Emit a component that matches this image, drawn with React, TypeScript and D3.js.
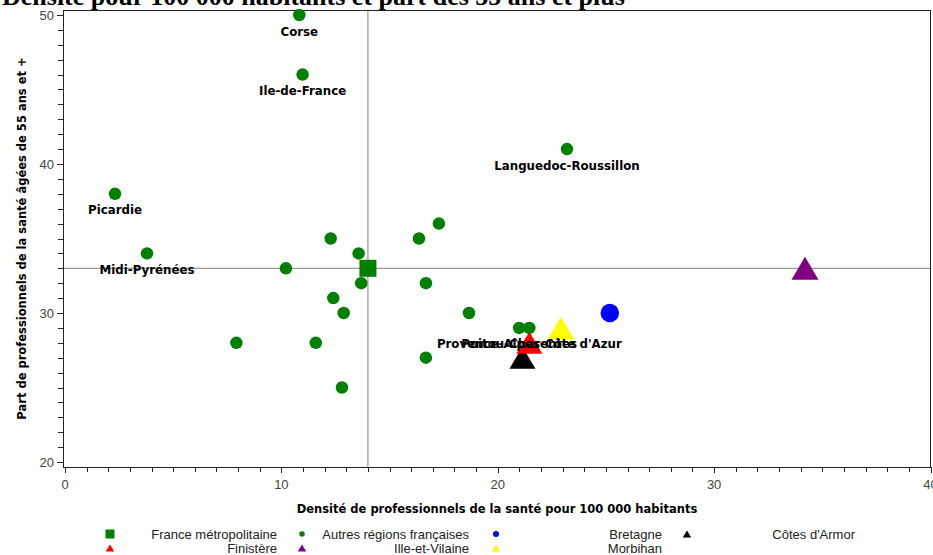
import React from 'react';
import * as d3 from 'd3';

const W = 933;
const H = 555;

const titleText = 'Densité pour 100 000 habitants et part des 55 ans et plus';
const xTitle = 'Densité de professionnels de la santé pour 100 000 habitants';
const yTitle = 'Part de professionnels de la santé âgées de 55 ans et +';

// Autres régions françaises
const autresLabels = [
  'Corse', 'Ile-de-France', 'Languedoc-Roussillon', 'Picardie', 'Midi-Pyrénées',
  'Poitou-Charentes', "Provence-Alpes-Côte d'Azur",
  '', '', '', '', '', '', '', '', '', '', '', '', '', '',
];
const autresX = [
  10.83, 10.98, 23.2, 2.31, 3.79, 20.99, 21.46,
  12.28, 17.28, 16.36, 13.57, 10.21, 13.69, 16.68, 12.4, 12.88, 18.67, 7.92, 11.59, 16.68, 12.8,
];
const autresY = [
  50, 46, 41, 38, 34, 29, 29,
  35, 36, 35, 34, 33, 32, 32, 31, 30, 30, 28, 28, 27, 25,
];

// Territoires de référence
const refNames = ['France métropolitaine', 'Bretagne', "Côtes d'Armor", 'Finistère', 'Ille-et-Vilaine', 'Morbihan'];
const refX = [14.0, 25.18, 21.14, 21.46, 34.2, 22.92];
const refY = [33, 30, 27, 28, 33, 29];

const legendItems = [
  'France métropolitaine', 'Autres régions françaises', 'Bretagne', "Côtes d'Armor",
  'Finistère', 'Ille-et-Vilaine', 'Morbihan',
];

const xTicksMajor = [0, 10, 20, 30, 40];
const yTicksMajor = [20, 30, 40, 50];

const GREEN = '#008000';
const colorOf: Record<string, string> = {
  'France métropolitaine': GREEN,
  'Autres régions françaises': GREEN,
  'Bretagne': '#0000ff',
  "Côtes d'Armor": '#000000',
  'Finistère': '#ff0000',
  'Ille-et-Vilaine': '#800080',
  'Morbihan': '#ffff00',
};
const shapeOf: Record<string, string> = {
  'France métropolitaine': 'square',
  'Autres régions françaises': 'circle',
  'Bretagne': 'circle',
  "Côtes d'Armor": 'triangle',
  'Finistère': 'triangle',
  'Ille-et-Vilaine': 'triangle',
  'Morbihan': 'triangle',
};

function Marker({ name, cx, cy, size }: { name: string; cx: number; cy: number; size: number }) {
  const shape = shapeOf[name];
  const fill = colorOf[name];
  if (shape === 'circle') return <circle cx={cx} cy={cy} r={size / 2} fill={fill} />;
  if (shape === 'square')
    return <rect x={cx - size / 2} y={cy - size / 2} width={size} height={size} fill={fill} />;
  const w = size;
  const h = size * 0.85;
  const pts = `${cx},${cy - h / 2} ${cx + w / 2},${cy + h / 2} ${cx - w / 2},${cy + h / 2}`;
  return <polygon points={pts} fill={fill} />;
}

export default function App() {
  const left = 63;
  const right = 931;
  const top = 10;
  const bottom = 467;
  const x = d3.scaleLinear().domain([0, 40]).range([65, 930.5]);
  const y = d3.scaleLinear().domain([20, 50]).range([462, 15]);
  const xMinor = x.ticks(40);
  const yMinor = y.ticks(30);
  const france = refNames.indexOf('France métropolitaine');

  const refSize: Record<string, number> = {
    'France métropolitaine': 17,
    'Bretagne': 18.5,
    "Côtes d'Armor": 26,
    'Finistère': 26,
    'Ille-et-Vilaine': 27,
    'Morbihan': 26,
  };
  const legendSize: Record<string, number> = {
    'France métropolitaine': 9,
    'Autres régions françaises': 5.5,
    'Bretagne': 6,
    "Côtes d'Armor": 8.5,
    'Finistère': 8.5,
    'Ille-et-Vilaine': 8.5,
    'Morbihan': 8.5,
  };
  const legMarkerX = [110, 302, 496, 687];
  const legTextX = [277, 469, 662, 855];
  const legRowY = [534, 548];

  const labelFont = "'DejaVu Sans', sans-serif";
  const tickFont = "'Liberation Sans', Arial, sans-serif";

  return (
    <svg width={W} height={H} style={{ position: 'absolute', left: 0, top: 0, background: '#fff' }}>
      <rect x={0} y={0} width={W} height={H} fill="#fff" />
      <text x={2} y={4.5} fontFamily="'Liberation Serif', 'Times New Roman', serif" fontWeight="bold" fontSize={26} fill="#000">
        {titleText}
      </text>

      {/* reference lines */}
      <line x1={x(refX[france])} x2={x(refX[france])} y1={top} y2={bottom} stroke="#808080" strokeWidth={1} />
      <line x1={left} x2={right} y1={y(refY[france])} y2={y(refY[france])} stroke="#808080" strokeWidth={1} />

      {/* frame */}
      <rect x={left + 0.5} y={top + 0.5} width={right - left - 1} height={bottom - top} fill="none" stroke="#222" strokeWidth={1} />

      {/* x axis ticks */}
      {xMinor.map((t) => (
        <line key={'xm' + t} x1={Math.round(x(t)) + 0.5} x2={Math.round(x(t)) + 0.5} y1={bottom} y2={bottom + (xTicksMajor.includes(t) ? 6 : 5)} stroke="#222" />
      ))}
      {xTicksMajor.map((t) => (
        <text key={'xl' + t} x={x(t)} y={489} textAnchor="middle" fontFamily={tickFont} fontSize={13} fill="#444">
          {t}
        </text>
      ))}
      {/* y axis ticks */}
      {yMinor.map((t) => (
        <line key={'ym' + t} x1={left - (yTicksMajor.includes(t) ? 6 : 5)} x2={left} y1={Math.round(y(t)) + 0.5} y2={Math.round(y(t)) + 0.5} stroke="#222" />
      ))}
      {yTicksMajor.map((t) => (
        <text key={'yl' + t} x={54} y={y(t) + 4.5} textAnchor="end" fontFamily={tickFont} fontSize={13} fill="#444">
          {t}
        </text>
      ))}

      {/* axis titles */}
      <text x={(left + right) / 2} y={513} textAnchor="middle" fontFamily={labelFont} fontWeight="bold" fontSize={11.5} fill="#000">
        {xTitle}
      </text>
      <text transform={`translate(26,${(top + bottom) / 2}) rotate(-90)`} textAnchor="middle" fontFamily={labelFont} fontWeight="bold" fontSize={11.5} fill="#000">
        {yTitle}
      </text>

      {/* autres régions */}
      {autresX.map((v, i) => (
        <Marker key={'a' + i} name="Autres régions françaises" cx={x(v)} cy={y(autresY[i])} size={12.5} />
      ))}
      {/* référence */}
      {refNames.map((n, i) => (
        <Marker key={'r' + i} name={n} cx={x(refX[i])} cy={y(refY[i])} size={refSize[n]} />
      ))}
      {/* labels */}
      {autresLabels.map((l, i) =>
        l ? (
          <text key={'l' + i} x={x(autresX[i])} y={y(autresY[i]) + 20.5} textAnchor="middle" fontFamily={labelFont} fontWeight="bold" fontSize={11.8} fill="#000">
            {l}
          </text>
        ) : null
      )}

      {/* legend */}
      {legendItems.map((n, i) => {
        const col = i % 4;
        const row = Math.floor(i / 4);
        return (
          <g key={'lg' + i}>
            <Marker name={n} cx={legMarkerX[col]} cy={legRowY[row]} size={legendSize[n]} />
            <text x={legTextX[col]} y={legRowY[row] + 4.5} textAnchor="end" fontFamily={tickFont} fontSize={13} fill="#222">
              {n}
            </text>
          </g>
        );
      })}
    </svg>
  );
}
